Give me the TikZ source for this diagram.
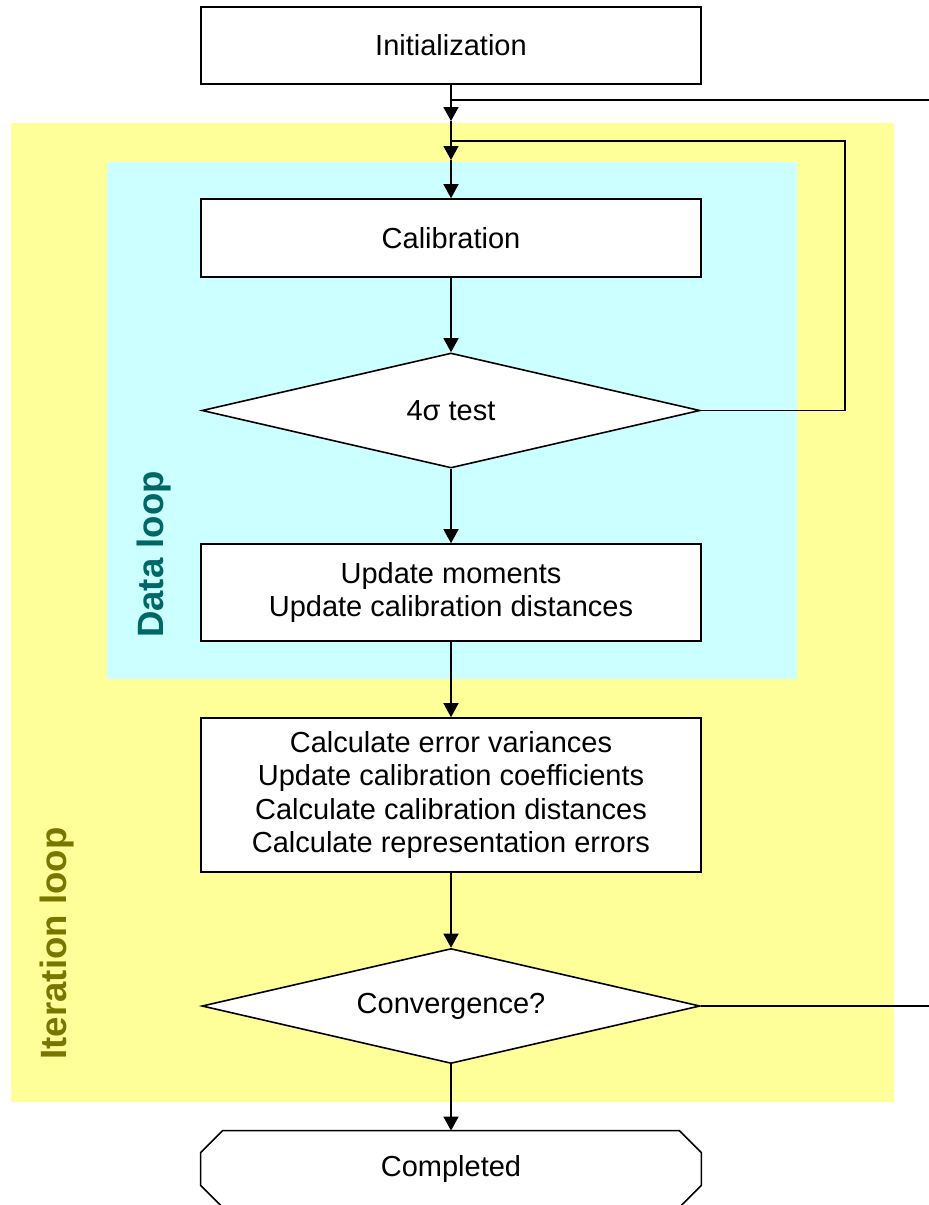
\documentclass[tikz,border=0pt]{standalone}
\usepackage{fontspec}
\setmainfont{Liberation Sans}
\usetikzlibrary{arrows.meta,shapes.geometric}
\definecolor{iterbg}{HTML}{FFFF99}
\definecolor{databg}{HTML}{CCFFFF}
\definecolor{datatxt}{HTML}{006666}
\definecolor{itertxt}{HTML}{777700}
\begin{document}
\begin{tikzpicture}[x=0.5pt,y=-0.5pt,
  box/.style={draw, line width=0.8pt, fill=white, minimum width=250pt, inner sep=0pt, align=center, font=\fontsize{14.5}{16.8}\selectfont},
  dec/.style={diamond, draw, line width=0.8pt, fill=white, aspect=4.33, minimum width=249pt, minimum height=57.5pt, inner sep=0pt, font=\fontsize{14.5}{16.8}\selectfont},
  conn/.style={line width=0.7pt},
  arr/.style={conn, -{Triangle[width=7.5pt,length=7pt]}},
  looplabel/.style={rotate=90, font=\bfseries\fontsize{18.3}{22}\selectfont}]
\useasboundingbox (0,0) rectangle (929,1205);
% background regions
\fill[iterbg] (11,123) rectangle (894,1102);
\fill[databg] (107,162) rectangle (797,679);
\node[looplabel, text=datatxt] (dlab) at (154,554.5) {Data loop};
\node[looplabel, text=itertxt] (ilab) at (57.5,943.5) {Iteration loop};
% nodes
\node[box, minimum height=38.5pt] (init) at (451,45.5) {Initialization};
\node[box, minimum height=39pt] (calib) at (451,238) {Calibration};
\node[dec] (sig) at (451,410.5) {4σ test};
\node[box, minimum height=48.5pt] (upd) at (451,592.5) {Update moments\\Update calibration distances};
\node[box, minimum height=77pt] (calc) at (451,795) {Calculate error variances\\Update calibration coefficients\\Calculate calibration distances\\Calculate representation errors};
\node[dec] (conv) at (451,1006) {Convergence?};
\node[minimum width=250pt, minimum height=38pt, inner sep=0pt, font=\fontsize{14.5}{16.8}\selectfont] (done) at (451,1169) {Completed};
\draw[line width=0.8pt] ([xshift=11pt]done.north west) -- ([xshift=-11pt]done.north east) -- ([yshift=-11pt]done.north east) -- ([yshift=11pt]done.south east) -- ([xshift=-11pt]done.south east) -- ([xshift=11pt]done.south west) -- ([yshift=11pt]done.south west) -- ([yshift=-11pt]done.north west) -- cycle;
% junctions
\coordinate (j1) at (451,100);
\coordinate (a1) at (451,121);
\coordinate (j2) at (451,141);
\coordinate (a2) at (451,160);
\coordinate (r1) at (845,141);
\coordinate (r2) at (960,1006);
% connectors
\draw[arr] (init) -- (a1);
\draw[arr] (a1) -- (a2);
\draw[arr] (a2) -- (calib);
\draw[arr] (calib) -- (sig);
\draw[arr] (sig) -- (upd);
\draw[arr] (upd) -- (calc);
\draw[arr] (calc) -- (conv);
\draw[arr] (conv) -- (done);
\draw[conn] (sig.east) -| (r1) -- (j2);
\draw[conn] (conv.east) -- (r2) |- (j1);
\end{tikzpicture}
\end{document}
